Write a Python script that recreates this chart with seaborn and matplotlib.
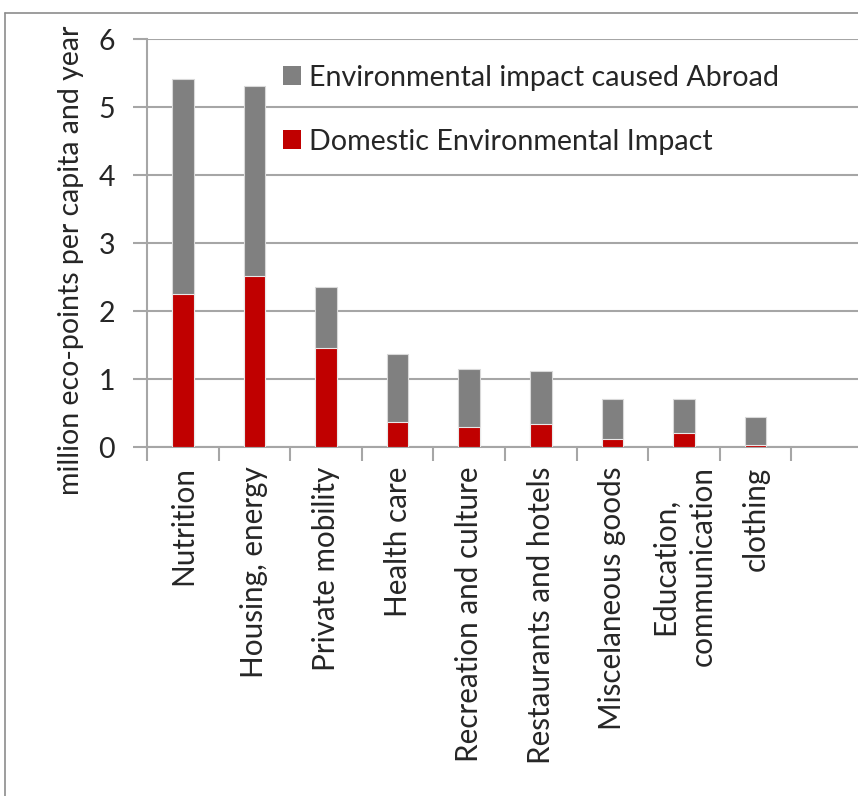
import numpy as np
import pandas as pd
import matplotlib
matplotlib.use("Agg")
import matplotlib.pyplot as plt
from matplotlib.lines import Line2D
from matplotlib.patches import Patch
import seaborn as sns

categories = ["Nutrition", "Housing, energy", "Private mobility", "Health care",
              "Recreation and culture", "Restaurants and hotels",
              "Miscelaneous goods", "Education,\ncommunication", "clothing"]
domestic = [2.25, 2.52, 1.46, 0.37, 0.29, 0.34, 0.12, 0.20, 0.03]
abroad = [3.16, 2.79, 0.89, 1.00, 0.85, 0.78, 0.59, 0.50, 0.41]
y_ticks = [0, 1, 2, 3, 4, 5, 6]

sns.set_theme(style="white")
plt.rcParams["font.family"] = ["Lato", "DejaVu Sans"]

df = pd.DataFrame({"category": categories, "domestic": domestic, "abroad": abroad})
df["total"] = df["domestic"] + df["abroad"]

fig = plt.figure(figsize=(8.58, 7.96), dpi=100)
ax = fig.add_axes([147 / 858, 1 - 447 / 796, 716 / 858, 408 / 796])

grey = "#808080"
red = "#C00000"
axis_grey = "#a6a6a6"
sns.barplot(data=df, x="category", y="total", color=grey, width=0.3,
            saturation=1, edgecolor="#d9d9d9", linewidth=0.8, ax=ax, zorder=3)
sns.barplot(data=df, x="category", y="domestic", color=red, width=0.3,
            saturation=1, edgecolor="#e8e8e8", linewidth=0.8, ax=ax, zorder=4)

ax.set_xlim(-0.5, 9.5)
ax.set_ylim(0, 6)
ax.set_yticks(y_ticks)
ax.set_yticklabels([str(t) for t in y_ticks], fontsize=20.5)
ax.grid(axis="y", color=axis_grey, linewidth=1.5, zorder=0)
ax.set_axisbelow(True)

ax.set_xticks(range(len(categories)))
ax.set_xticklabels(categories, rotation=90, fontsize=21.3, va="top",
                   ha="center", linespacing=1.4, multialignment="center")
ax.set_xticks(np.arange(-0.5, 10.0, 1.0), minor=True)
ax.tick_params(axis="x", which="major", length=0, pad=14)
ax.tick_params(axis="x", which="minor", length=10, width=1.5, color=axis_grey,
               direction="out", bottom=True)
ax.tick_params(axis="y", length=10, width=1.5, color=axis_grey, left=True,
               pad=13)

for side in ["top", "right"]:
    ax.spines[side].set_visible(False)
for side in ["left", "bottom"]:
    ax.spines[side].set_color(axis_grey)
    ax.spines[side].set_linewidth(1.5)

ax.set_xlabel("")
ax.set_ylabel("")
fig.text(71 / 858, 1 - 260 / 796, "million eco-points per capita and year",
         rotation=90, ha="center", va="center", fontsize=20.5)

handles = [Patch(facecolor=grey, edgecolor="none",
                 label="Environmental impact caused Abroad"),
           Patch(facecolor=red, edgecolor="none",
                 label="Domestic Environmental Impact")]
ax.legend(handles=handles, loc="upper left", bbox_to_anchor=(0.154, 1.0),
          frameon=False, fontsize=20.6, handlelength=0.63, handleheight=0.63,
          handletextpad=0.28, labelspacing=1.32)

# chart frame
fig.add_artist(Line2D([5 / 858, 5 / 858], [0, 1 - 13 / 796],
                      transform=fig.transFigure, color="#8c8c8c", linewidth=1.2))
fig.add_artist(Line2D([5 / 858, 1], [1 - 13 / 796, 1 - 13 / 796],
                      transform=fig.transFigure, color="#8c8c8c", linewidth=1.2))

fig.savefig("out.png", dpi=100)
